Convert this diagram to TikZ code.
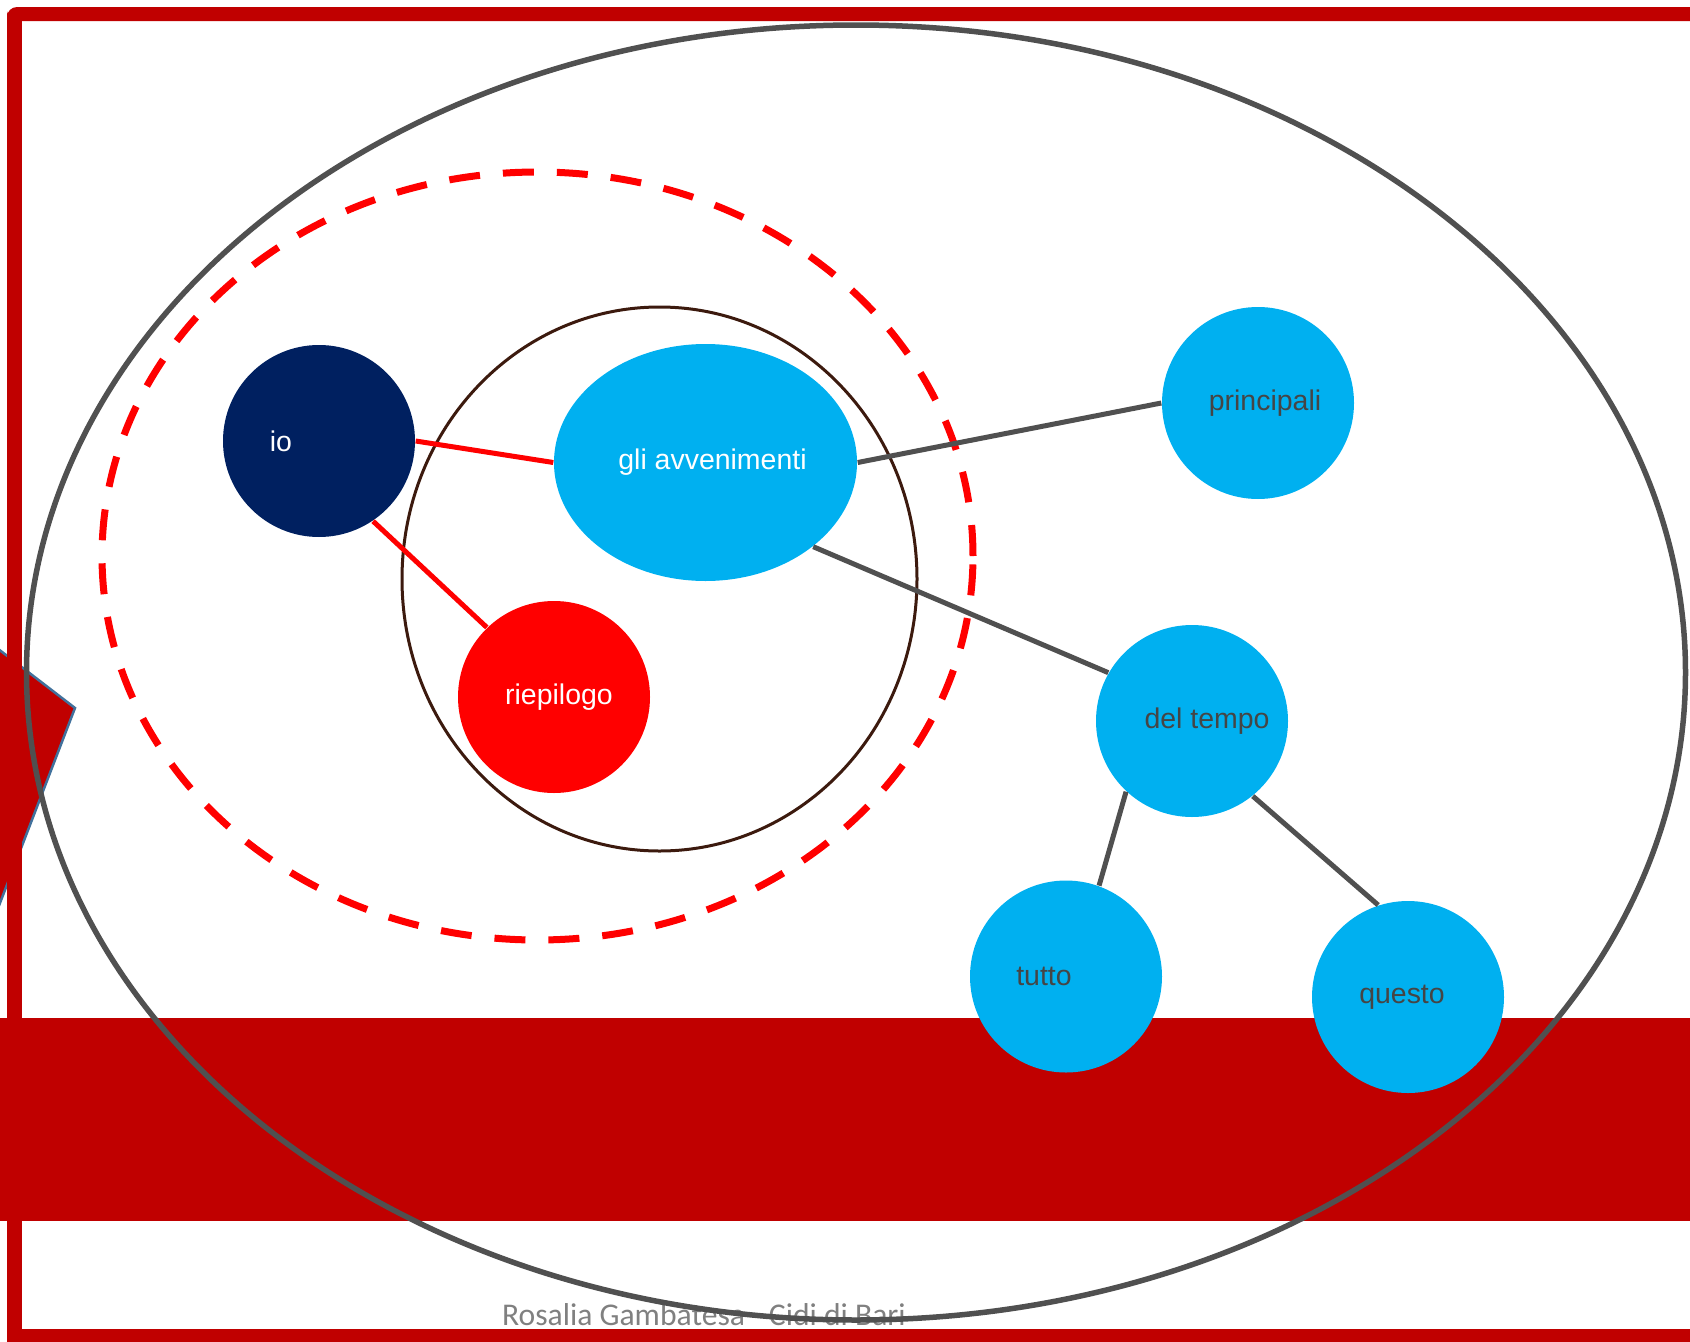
\documentclass[tikz,border=0pt]{standalone}
\usepackage{fontspec}
\setmainfont{Liberation Sans}
\newfontfamily\footfont{Carlito}
\usepackage{tikz}
\usepackage{xcolor}
\usetikzlibrary{shapes.geometric}

\definecolor{framered}{HTML}{C00000}
\definecolor{navy}{HTML}{002060}
\definecolor{sky}{HTML}{00B0F0}
\definecolor{linegray}{HTML}{505050}
\definecolor{darktext}{HTML}{454545}
\definecolor{ringbrown}{HTML}{3C1A0E}
\definecolor{arrowblue}{HTML}{41719C}
\definecolor{footgray}{HTML}{808080}

\begin{document}
\begin{tikzpicture}[x=0.1mm,y=-0.1mm,
  bubble/.style={circle,fill=sky,minimum size=19.2mm,inner sep=0pt},
  txt/.style={font=\fontsize{8.1}{9}\selectfont,text=darktext,inner sep=0pt},
  wtxt/.style={txt,text=white},
  redlink/.style={draw=red,line width=0.5mm},
  graylink/.style={draw=linegray,line width=0.5mm}]
\useasboundingbox (0,0) rectangle (1690,1341);
\filldraw[fill=framered,draw=arrowblue,line width=0.25mm] (-20,635) -- (75,708) -- (-20,955) -- cycle;
\fill[framered,rounded corners=1mm] (7,7) rectangle (1700,21);
\fill[framered] (7,14) rectangle (22,1350);
\fill[framered] (7,1329) rectangle (1700,1350);
\fill[framered] (-10,1018) rectangle (1700,1221);
\node[anchor=base,inner sep=0pt,text=footgray,font=\footfont\fontsize{9}{10}\selectfont] (foot) at (704,1325) {Rosalia Gambatesa - Cidi di Bari};
\draw[linegray,line width=0.55mm] (856,672.5) ellipse [x radius=82.95mm, y radius=64.75mm];
\draw[red,line width=0.7mm,dash pattern=on 3.1mm off 2.3mm] (537.5,556) ellipse [x radius=43.55mm, y radius=38.4mm];
\draw[ringbrown,line width=0.3mm] (659.5,579) ellipse [x radius=25.75mm, y radius=27.2mm];
\node[bubble,fill=navy,label={[wtxt,xshift=-3.8mm]center:io}] (io) at (319,441) {};
\node[ellipse,fill=sky,minimum width=30.3mm,minimum height=23.7mm,inner sep=0pt,label={[wtxt,xshift=0.7mm]center:gli avvenimenti}] (gli) at (705.5,462.5) {};
\node[bubble,fill=red,label={[wtxt,xshift=0.5mm]center:riepilogo}] (riepilogo) at (554,697) {};
\node[bubble,label={[txt,xshift=0.7mm]center:principali}] (principali) at (1258,403) {};
\node[bubble,label={[txt,xshift=1.5mm]center:del tempo}] (deltempo) at (1192,721) {};
\node[bubble,label={[txt,xshift=-2.2mm]center:tutto}] (tutto) at (1066,976.5) {};
\node[bubble,label={[txt,xshift=-0.6mm]center:questo}] (questo) at (1408,997) {};
\draw[redlink] (io.east) -- (gli.west);
\draw[redlink] (io.-56.5) -- (riepilogo.134);
\draw[graylink] (gli.east) -- (principali.west);
\draw[graylink] (gli.-38.8) -- (deltempo.150.7);
\draw[graylink] (deltempo.-133.3) -- (tutto.70.9);
\draw[graylink] (deltempo.-51.3) -- (questo.108.6);
\end{tikzpicture}
\end{document}
